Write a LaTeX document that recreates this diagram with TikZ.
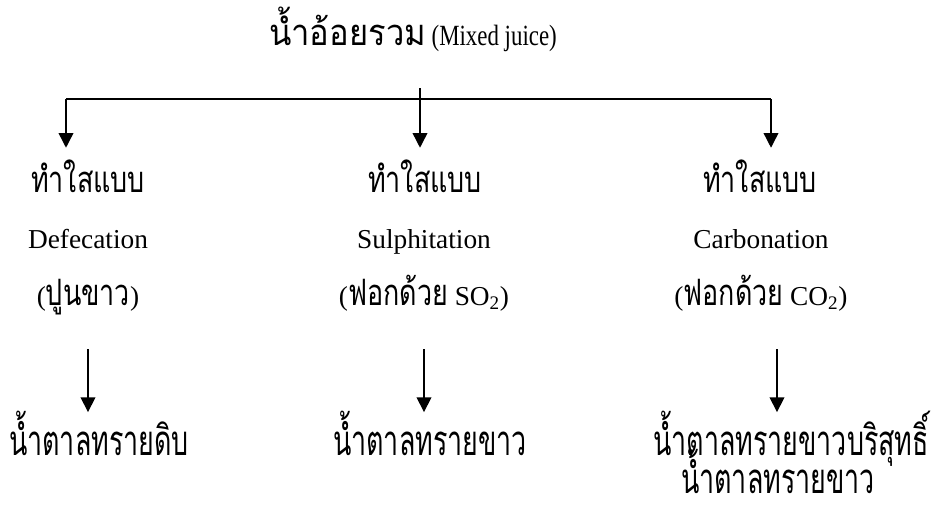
\documentclass[tikz,border=0pt]{standalone}
\usepackage{fontspec}
\setmainfont{Liberation Serif}
\newfontfamily\latincond[FakeStretch=0.78]{Liberation Serif}
\newfontfamily\thaifont[Script=Thai,FakeStretch=0.74,Scale=1.33]{Loma}
\newfontfamily\thaititle[Script=Thai,FakeStretch=0.9,Scale=1.33]{Loma}
\newfontfamily\thaicond[Script=Thai,FakeStretch=0.64,Scale=1.43]{Loma}
\usetikzlibrary{arrows.meta,positioning}

\tikzset{
  lbl/.style={inner sep=0pt, anchor=base, font=\fontsize{20.5}{24}\selectfont},
  upperlbl/.style={lbl, text height=33pt},
  lowerlbl/.style={lbl, text depth=33pt},
  sugarlbl/.style={lbl, text height=32pt, font=\fontsize{22}{26}\selectfont\thaicond},
  flow/.style={->, line width=1.1pt}
}

\begin{document}
\begin{tikzpicture}[x=0.75pt,y=-0.75pt,>={Triangle[width=11pt,length=11pt]}]
  \useasboundingbox (0,0) rectangle (934,504);

  % Mixed juice
  \node[lbl, font=\fontsize{22}{26}\selectfont\latincond] (mixed) at (413,45) {{\fontsize{20.5}{24}\selectfont\thaititle น้ำอ้อยรวม} (Mixed juice)};
  \coordinate (split) at (420,88);
  \coordinate (busl) at (66,99);
  \coordinate (busr) at (771,99);

  % Clarification methods
  \node[upperlbl] (clear1) at (88,192) {\thaifont ทำใสแบบ};
  \node[upperlbl] (clear2) at (425,192) {\thaifont ทำใสแบบ};
  \node[upperlbl] (clear3) at (760,192) {\thaifont ทำใสแบบ};

  \node[lbl] (method1) at (88,248) {Defecation};
  \node[lbl] (method2) at (424,248) {Sulphitation};
  \node[lbl] (method3) at (761,248) {Carbonation};

  \node[lowerlbl] (agent1) at (88,305) {({\thaifont ปูนขาว})};
  \node[lowerlbl] (agent2) at (424,305) {({\thaifont ฟอกด้วย} SO\textsubscript{2})};
  \node[lowerlbl] (agent3) at (761,305) {({\thaifont ฟอกด้วย} CO\textsubscript{2})};

  % Products
  \node[sugarlbl] (sugar1) at (99,455) {น้ำตาลทรายดิบ};
  \node[sugarlbl] (sugar2) at (430,455) {น้ำตาลทรายขาว};
  \node[sugarlbl] (sugar3) at (791,455) {น้ำตาลทรายขาวบริสุทธิ์};
  \node[sugarlbl, text height=, text depth=0pt] (sugar3b) at (778,493) {น้ำตาลทรายขาว};

  % Branching arrows
  \draw[line width=1.1pt] (busl) -- (busr);
  \draw[flow] (split) -- (split |- clear2.north);
  \draw[flow] (busl) -- (busl |- clear1.north);
  \draw[flow] (busr) -- (busr |- clear3.north);

  % Arrows to products
  \draw[flow] (agent1.south) -- (agent1.south |- sugar1.north);
  \draw[flow] (agent2.south) -- (agent2.south |- sugar2.north);
  \draw[flow] ([xshift=12pt]agent3.south) -- ([xshift=12pt]agent3.south |- sugar3.north);
\end{tikzpicture}
\end{document}
